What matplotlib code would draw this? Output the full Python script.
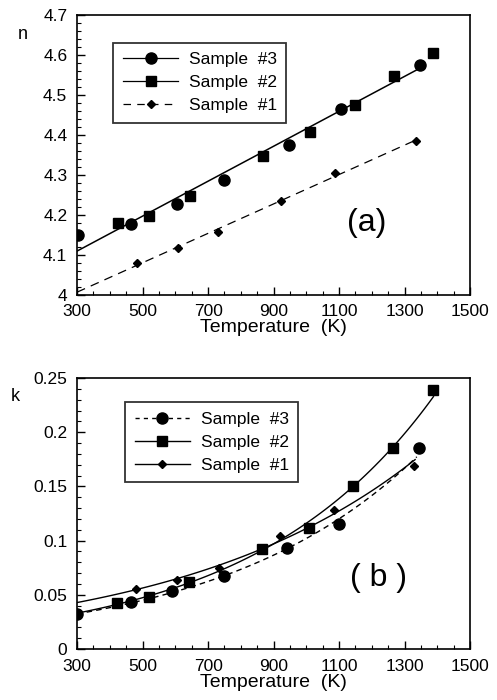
import numpy as np
import matplotlib
matplotlib.use("Agg")
import matplotlib.pyplot as plt
from matplotlib.ticker import MultipleLocator

plt.rcParams['font.family'] = ['Liberation Sans', 'DejaVu Sans']

# (a) refractive index n
n3_T = [303, 466, 606, 750, 947, 1105, 1348]
n3 = [4.150, 4.178, 4.228, 4.288, 4.375, 4.465, 4.575]
n2_T = [424, 521, 646, 867, 1012, 1148, 1266, 1388]
n2 = [4.179, 4.198, 4.246, 4.348, 4.406, 4.474, 4.546, 4.604]
n1_T = [482, 608, 731, 924, 1086, 1336]
n1 = [4.079, 4.117, 4.157, 4.234, 4.305, 4.384]

# (b) extinction coefficient k
k3_T = [300, 465, 591, 750, 942, 1101, 1345]
k3 = [0.032, 0.043, 0.053, 0.067, 0.093, 0.115, 0.185]
k2_T = [422, 521, 643, 865, 1008, 1143, 1264, 1386]
k2 = [0.042, 0.048, 0.062, 0.092, 0.112, 0.150, 0.185, 0.239]
k1_T = [481, 606, 734, 920, 1084, 1330]
k1 = [0.055, 0.064, 0.075, 0.104, 0.128, 0.169]

labels = ['Sample  #3', 'Sample  #2', 'Sample  #1']

fig = plt.figure(figsize=(4.97, 7.0), dpi=100)
ax1 = fig.add_axes([0.155, 0.579, 0.791, 0.400])
ax2 = fig.add_axes([0.155, 0.073, 0.791, 0.387])

# linear fits for n
t = np.linspace(300, 1350, 50)
tt = np.linspace(300, 1330, 50)
p23 = np.poly1d(np.polyfit(n3_T + n2_T, n3 + n2, 1))
p1 = np.poly1d(np.polyfit(n1_T, n1, 1))
ax1.plot(t, p23(t), 'k-', lw=1.1)
ax1.plot(tt, p1(tt), 'k--', lw=0.9, dashes=(7, 5))
ax1.plot(n3_T, n3, 'ko', ms=8, ls='none')
ax1.plot(n2_T, n2, 'ks', ms=7, ls='none')
ax1.plot(n1_T, n1, 'kD', ms=4.5, ls='none')
h1 = [plt.Line2D([], [], color='k', marker='o', ms=8, lw=0.9, ls='-'),
      plt.Line2D([], [], color='k', marker='s', ms=7, lw=0.9, ls='-'),
      plt.Line2D([], [], color='k', marker='D', ms=4.5, lw=0.9, ls='--', dashes=(6, 5))]
leg = ax1.legend(h1, labels, loc='upper left', bbox_to_anchor=(0.092, 0.9),
                 borderaxespad=0, fontsize=12.5, frameon=True, fancybox=False,
                 edgecolor='k', handlelength=3.2, borderpad=0.55, labelspacing=0.45,
                 handletextpad=0.6)
leg.get_frame().set_linewidth(1.3)
ax1.text(1185, 4.18, '(a)', fontsize=23, ha='center', va='center')
ax1.set_xlim(300, 1500)
ax1.set_ylim(4.0, 4.7)
ax1.set_yticks(np.arange(4.0, 4.71, 0.1))
ax1.set_yticklabels(['4', '4.1', '4.2', '4.3', '4.4', '4.5', '4.6', '4.7'])
ax1.yaxis.set_minor_locator(MultipleLocator(0.02))
ax1.text(-0.138, 0.93, 'n', transform=ax1.transAxes, fontsize=13, ha='center', va='center')

# exponential fits for k
def expfit(x, y, t):
    c = np.polyfit(x, np.log(y), 1)
    return np.exp(np.polyval(c, t))

t2 = np.linspace(300, 1388, 80)
t1 = np.linspace(300, 1332, 80)
t3 = np.linspace(300, 1337, 80)
ax2.plot(t2, expfit(k2_T, k2, t2), 'k-', lw=1.0)
ax2.plot(t1, expfit(k1_T, k1, t1), 'k-', lw=1.0)
ax2.plot(t3, expfit(k3_T, k3, t3), 'k--', lw=1.0, dashes=(4, 3))
ax2.plot(k3_T, k3, 'ko', ms=8, ls='none')
ax2.plot(k2_T, k2, 'ks', ms=7, ls='none')
ax2.plot(k1_T, k1, 'kD', ms=4.5, ls='none')
h2 = [plt.Line2D([], [], color='k', marker='o', ms=8, lw=1.0, ls='--', dashes=(3, 3)),
      plt.Line2D([], [], color='k', marker='s', ms=7, lw=1.0, ls='-'),
      plt.Line2D([], [], color='k', marker='D', ms=4.5, lw=1.0, ls='-')]
leg2 = ax2.legend(h2, labels, loc='upper left', bbox_to_anchor=(0.122, 0.911),
                  borderaxespad=0, fontsize=12.5, frameon=True, fancybox=False,
                  edgecolor='k', handlelength=3.2, borderpad=0.55, labelspacing=0.45,
                  handletextpad=0.6)
leg2.get_frame().set_linewidth(1.3)
ax2.text(1219, 0.0655, '( b )', fontsize=23, ha='center', va='center')
ax2.set_xlim(300, 1500)
ax2.set_ylim(0, 0.25)
ax2.set_yticks([0, 0.05, 0.1, 0.15, 0.2, 0.25])
ax2.set_yticklabels(['0', '0.05', '0.1', '0.15', '0.2', '0.25'])
ax2.yaxis.set_minor_locator(MultipleLocator(0.01))
ax2.text(-0.158, 0.93, 'k', transform=ax2.transAxes, fontsize=13, ha='center', va='center')

for ax in (ax1, ax2):
    ax.set_xticks(np.arange(300, 1501, 200))
    ax.xaxis.set_minor_locator(MultipleLocator(50))
    ax.tick_params(which='both', direction='in', top=False, right=False, labelsize=12.5)
    ax.tick_params(axis='x', which='major', pad=7)
    ax.tick_params(axis='y', which='major', pad=7)
    ax.tick_params(which='major', length=6, width=1.0)
    ax.tick_params(which='minor', length=3, width=0.8)
    ax.set_xlabel('Temperature  (K)', fontsize=14, labelpad=0)
    for s in ax.spines.values():
        s.set_linewidth(1.2)

fig.savefig('out.png', dpi=100)
